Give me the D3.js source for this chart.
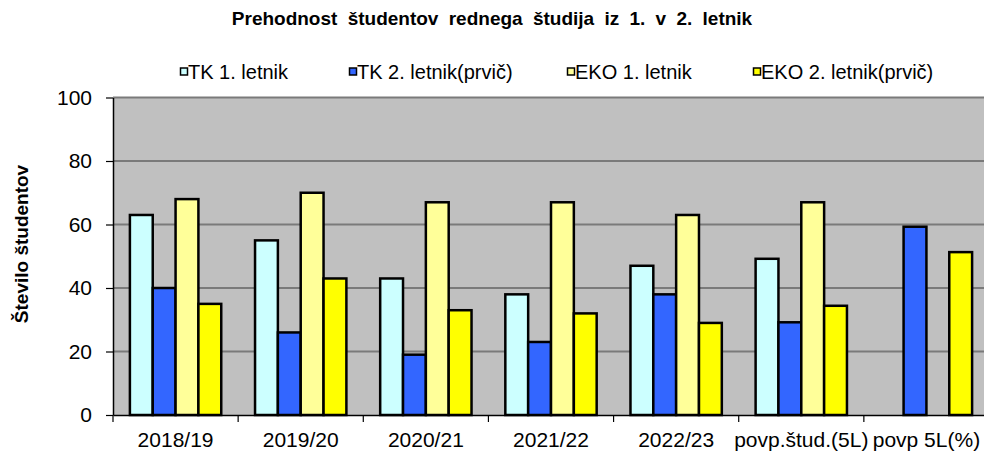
<!DOCTYPE html>
<html>
<head>
<meta charset="utf-8">
<script src="https://cdn.jsdelivr.net/npm/d3@7/dist/d3.min.js"></script>
<style>
  html, body { margin: 0; padding: 0; background: #fff; }
  svg { display: block; }
  text { font-family: "Liberation Sans", Arial, sans-serif; fill: #000; }
</style>
</head>
<body>
<svg id="chart" width="984" height="455"></svg>
<script>
const title = "Prehodnost študentov rednega študija iz 1. v 2. letnik";
const yTitle = "Število študentov";
const categories = ["2018/19", "2019/20", "2020/21", "2021/22", "2022/23", "povp.štud.(5L)", "povp 5L(%)"];
const seriesNames = ["TK 1. letnik", "TK 2. letnik(prvič)", "EKO 1. letnik", "EKO 2. letnik(prvič)"];
const tk1 = [63, 55, 43, 38, 47, 49.2, null];
const tk2 = [40, 26, 19, 23, 38, 29.2, 59.3];
const eko1 = [68, 70, 67, 67, 63, 67, null];
const eko2 = [35, 43, 33, 32, 29, 34.4, 51.3];
const yTicks = [0, 20, 40, 60, 80, 100];
const colors = ["#ccffff", "#3366ff", "#ffff99", "#ffff00"];

const seriesValues = [tk1, tk2, eko1, eko2];
const svg = d3.select("#chart");

const plotLeft = 113, plotRight = 989, plotTop = 97.5, plotBottom = 415;

const x = d3.scaleBand().domain(categories).range([plotLeft, plotRight]).paddingInner(0).paddingOuter(0);
const xs = d3.scaleBand().domain(seriesNames).range([0, x.bandwidth()]).paddingInner(0).paddingOuter(0.74);
const y = d3.scaleLinear().domain([0, 100]).range([plotBottom, plotTop]);

// plot background
svg.append("rect").attr("x", plotLeft).attr("y", plotTop).attr("width", plotRight - plotLeft).attr("height", plotBottom - plotTop)
  .attr("fill", "#c0c0c0");

// gridlines
svg.append("g").selectAll("line").data(yTicks.filter(d => d > 0)).join("line")
  .attr("x1", plotLeft).attr("x2", plotRight)
  .attr("y1", d => y(d)).attr("y2", d => y(d))
  .attr("stroke", "#7a7a7a").attr("stroke-width", 2);

// bars
const rows = [];
categories.forEach((c, i) => {
  seriesNames.forEach((s, j) => {
    const v = seriesValues[j][i];
    if (v !== null && v !== undefined) rows.push({ c, s, v, j });
  });
});
svg.append("g").selectAll("rect").data(rows).join("rect")
  .attr("x", d => x(d.c) + xs(d.s))
  .attr("width", xs.bandwidth())
  .attr("y", d => y(d.v))
  .attr("height", d => y(0) - y(d.v))
  .attr("fill", d => colors[d.j])
  .attr("stroke", "#000").attr("stroke-width", 2.5);

// y axis
const yAxis = svg.append("g").attr("transform", `translate(${plotLeft},0)`)
  .call(d3.axisLeft(y).tickValues(yTicks).tickSize(7).tickSizeOuter(0).tickPadding(14));
yAxis.select(".domain").attr("stroke", "#000").attr("stroke-width", 1.5);
yAxis.selectAll(".tick line").attr("stroke", "#000").attr("stroke-width", 1.2);
yAxis.selectAll(".tick text").attr("font-size", 21).attr("font-family", "Liberation Sans, Arial, sans-serif").attr("fill", "#111");

// x axis
const xAxis = svg.append("g").attr("transform", `translate(0,${plotBottom})`)
  .call(d3.axisBottom(x).tickSize(0).tickSizeOuter(0).tickPadding(17));
xAxis.select(".domain").attr("stroke", "#000").attr("stroke-width", 1.5);
xAxis.selectAll(".tick text").attr("font-size", 21).attr("font-family", "Liberation Sans, Arial, sans-serif").attr("fill", "#111");
const boundaries = categories.map(c => x(c)).concat([x(categories[categories.length - 1]) + x.bandwidth()]);
svg.append("g").selectAll("line").data(boundaries).join("line")
  .attr("x1", d => d).attr("x2", d => d)
  .attr("y1", plotBottom).attr("y2", plotBottom + 7)
  .attr("stroke", "#000").attr("stroke-width", 1.2);

// title
svg.append("text").attr("x", 492).attr("y", 25).attr("text-anchor", "middle")
  .attr("font-size", 19).attr("font-weight", "bold").attr("word-spacing", 5).text(title);

// y title
svg.append("text").attr("transform", "translate(28,244) rotate(-90)").attr("text-anchor", "middle")
  .attr("font-size", 19).attr("font-weight", "bold").text(yTitle);

// legend
const legendX = [180, 349, 567, 753];
const lg = svg.append("g").selectAll("g").data(seriesNames).join("g")
  .attr("transform", (d, i) => `translate(${legendX[i]},72)`);
lg.append("rect").attr("x", 0.5).attr("y", -4).attr("width", 7).attr("height", 7)
  .attr("fill", (d, i) => colors[i]).attr("stroke", "#000").attr("stroke-width", 1.5);
lg.append("text").attr("x", 8).attr("y", 7).attr("font-size", 20).attr("fill", "#111").text(d => d);
</script>
</body>
</html>
